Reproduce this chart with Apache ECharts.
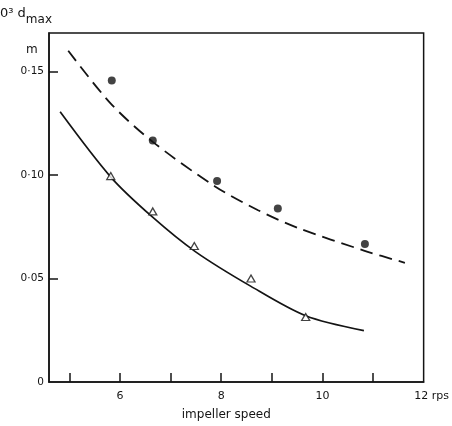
<!DOCTYPE html>
<html>
<head>
<meta charset="utf-8">
<script src="https://cdn.jsdelivr.net/npm/echarts@6/dist/echarts.min.js"></script>
<style>
  html, body { margin: 0; padding: 0; background: #fff; }
  #chart { width: 452px; height: 426px; }
</style>
</head>
<body>
<div id="chart"></div>
<script>
// points (impeller speed in rps, d_max)
const circleX = [5.84, 6.65, 7.92, 9.12, 10.84];
const circleY = [0.1457, 0.1167, 0.0971, 0.0838, 0.0667];
const triX = [5.82, 6.65, 7.47, 8.59, 9.67];
const triY = [0.0995, 0.0824, 0.0657, 0.0500, 0.0314];

// fitted curves
const dashX = [4.98, 5.82, 6.65, 7.88, 8.73, 9.51, 10.82, 11.63];
const dashY = [0.160, 0.1345, 0.1160, 0.0945, 0.0830, 0.0745, 0.0635, 0.0576];
const solidX = [4.82, 5.82, 6.63, 7.49, 8.59, 9.67, 10.82];
const solidY = [0.1305, 0.0990, 0.0800, 0.0630, 0.0462, 0.0320, 0.0248];

const xTicks = [5, 6, 7, 8, 9, 10, 11];
const xLabels = [6, 8, 10, 12];
const yTicks = [0.05, 0.10, 0.15];
const yLabels = [0, 0.05, 0.10, 0.15];

const ink = '#141414';
const font = 'DejaVu Sans';

const pairs = (xs, ys) => xs.map((x, i) => [x, ys[i]]);

const chart = echarts.init(document.getElementById('chart'));

const option = {
  animation: false,
  backgroundColor: '#fff',
  textStyle: { fontFamily: font, color: ink },
  grid: {
    left: 49, right: 28, top: 33, bottom: 39,
    show: true, borderColor: ink, borderWidth: 1.5
  },
  xAxis: {
    type: 'value',
    min: 4.6, max: 12,
    splitLine: { show: false },
    axisLine: { lineStyle: { color: ink, width: 1.5 } },
    axisTick: {
      inside: true, length: 9, customValues: xTicks,
      lineStyle: { color: ink, width: 1.5 }
    },
    axisLabel: {
      customValues: xLabels, margin: 9, fontSize: 11, color: ink, fontFamily: font,
      formatter: (v) => v === 12 ? '{p|12 rps}' : String(v),
      rich: { p: { fontSize: 11, color: ink, fontFamily: font, padding: [0, 0, 0, 16] } }
    },
    name: 'impeller speed',
    nameLocation: 'middle',
    nameGap: 27,
    nameTextStyle: { fontSize: 12, color: ink, fontFamily: font, padding: [0, 20, 0, 0] }
  },
  yAxis: {
    type: 'value',
    min: 0, max: 0.1686,
    splitLine: { show: false },
    axisLine: { lineStyle: { color: ink, width: 1.5 } },
    axisTick: {
      inside: true, length: 9, customValues: yTicks,
      lineStyle: { color: ink, width: 1.5 }
    },
    axisLabel: {
      customValues: yLabels, margin: 5, fontSize: 10.5, color: ink, fontFamily: font,
      formatter: (v) => v === 0 ? '0' : v.toFixed(2).replace('.', '·')
    }
  },
  graphic: [
    {
      type: 'text', left: 0, top: 7,
      style: {
        text: '0³ d{s|max}',
        font: '13px "DejaVu Sans"', fill: ink,
        rich: { s: { fontSize: 12, fontFamily: font, fill: ink, padding: [13, 0, 0, 0] } }
      }
    },
    {
      type: 'text', left: 26, top: 44,
      style: { text: 'm', font: '12px "DejaVu Sans"', fill: ink }
    }
  ],
  series: [
    {
      type: 'line', data: pairs(dashX, dashY), smooth: 0.3,
      showSymbol: false, silent: true,
      lineStyle: { color: ink, width: 1.8, type: [13, 7] }
    },
    {
      type: 'line', data: pairs(solidX, solidY), smooth: 0.3,
      showSymbol: false, silent: true,
      lineStyle: { color: ink, width: 1.7 }
    },
    {
      type: 'scatter', data: pairs(circleX, circleY),
      symbol: 'circle', symbolSize: 8,
      itemStyle: { color: ink }, z: 5
    },
    {
      type: 'scatter', data: pairs(triX, triY),
      symbol: 'triangle', symbolSize: [8, 7],
      itemStyle: { color: '#fff', borderColor: ink, borderWidth: 1.3 }, z: 5
    }
  ]
};

chart.setOption(option);
</script>
</body>
</html>
